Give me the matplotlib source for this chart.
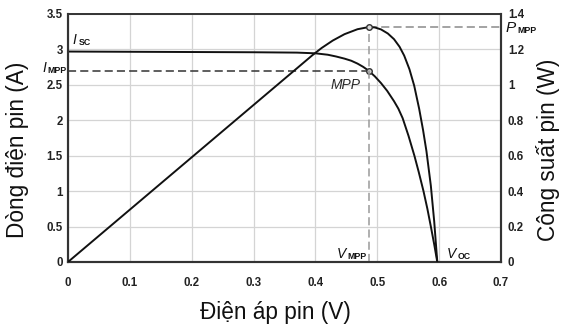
import matplotlib
matplotlib.use("Agg")
import matplotlib.pyplot as plt

plt.rcParams['font.family'] = ['Liberation Sans', 'DejaVu Sans']

# I-V curve (current, A)
iv_voltage = [0.0, 0.30, 0.37, 0.40, 0.42, 0.4335, 0.447, 0.458, 0.468, 0.477, 0.486,
              0.496, 0.506, 0.516, 0.527, 0.534, 0.541, 0.5505, 0.560, 0.567, 0.5747,
              0.581, 0.5866, 0.592, 0.597]
iv_current = [2.97, 2.96, 2.955, 2.945, 2.925, 2.90, 2.87, 2.84, 2.80, 2.755, 2.70,
              2.62, 2.525, 2.415, 2.27, 2.165, 2.03, 1.78, 1.50, 1.27, 1.00,
              0.75, 0.50, 0.25, 0.0]

# P-V curve (power, W)
pv_voltage = [0.0, 0.395, 0.41, 0.428, 0.447, 0.468, 0.486, 0.496, 0.506, 0.517, 0.527,
              0.536, 0.5435, 0.552, 0.5597, 0.5677, 0.574, 0.5795, 0.5866, 0.592, 0.597]
pv_power = [0.0, 1.167, 1.208, 1.250, 1.286, 1.314, 1.326, 1.324, 1.313, 1.290, 1.258,
            1.215, 1.165, 1.088, 0.995, 0.865, 0.745, 0.625, 0.43, 0.23, 0.0]

v_mpp = 0.486
i_mpp = 2.70
p_mpp = 1.326

x_ticks = [0, 0.1, 0.2, 0.3, 0.4, 0.5, 0.6, 0.7]
x_ticklabels = ['0', '0.1', '0.2', '0.3', '0.4', '0.5', '0.6', '0.7']
yl_ticks = [0, 0.5, 1, 1.5, 2, 2.5, 3, 3.5]
yl_ticklabels = ['0', '0.5', '1', '1.5', '2', '2.5', '3', '3.5']
yr_ticks = [0, 0.2, 0.4, 0.6, 0.8, 1.0, 1.2, 1.4]
yr_ticklabels = ['0', '0.2', '0.4', '0.6', '0.8', '1', '1.2', '1.4']

fig = plt.figure(figsize=(5.67, 3.30), dpi=100)
ax = fig.add_axes([0.1199, 0.2061, 0.7637, 0.7515])
ax2 = ax.twinx()

ax.set_xlim(0, 0.7)
ax.set_ylim(0, 3.5)
ax2.set_ylim(0, 1.4)

tick_font = dict(fontsize=8.3, fontweight='bold', color='#222222')
ax.set_xticks(x_ticks)
ax.set_xticklabels(x_ticklabels, **tick_font)
ax.set_yticks(yl_ticks)
ax.set_yticklabels(yl_ticklabels, **tick_font)
ax2.set_yticks(yr_ticks)
ax2.set_yticklabels(yr_ticklabels, **tick_font)
ax.tick_params(axis='x', length=0, pad=10.5)
ax.tick_params(axis='y', length=0, pad=3.8)
ax2.tick_params(axis='y', length=0, pad=5)

ax.grid(True, color='#d4d4d4', linewidth=0.9)
ax.set_axisbelow(True)

for a in (ax, ax2):
    for s in ['left', 'bottom', 'right']:
        a.spines[s].set_linewidth(1.5)
        a.spines[s].set_color('#333333')
    a.spines['top'].set_linewidth(1.2)
    a.spines['top'].set_color('#333333')

# curves
ax.plot(iv_voltage, iv_current, color='#111111', linewidth=1.4, zorder=3)
ax2.plot(pv_voltage, pv_power, color='#111111', linewidth=1.4, zorder=3)

# dashed guide lines
dash = (0, (5.3, 2.7))
ax.plot([0, v_mpp], [i_mpp, i_mpp], color='#333333', linestyle=dash, linewidth=1.1)
ax2.plot([v_mpp, v_mpp], [0, p_mpp], color='#9a9a9a', linestyle=dash, linewidth=1.1)
ax2.plot([v_mpp, 0.7], [p_mpp, p_mpp], color='#8a8a8a', linestyle=dash, linewidth=1.1)

# MPP markers
ax.plot([v_mpp], [i_mpp], marker='o', markersize=4, markerfacecolor='#cccccc',
        markeredgecolor='#333333', markeredgewidth=1.0, zorder=5)
ax2.plot([v_mpp], [p_mpp], marker='o', markersize=4, markerfacecolor='#dddddd',
         markeredgecolor='#333333', markeredgewidth=1.0, zorder=5)


def sub_label(axes, x, y, main, sub, main_size=10, sub_size=6.3):
    t = axes.text(x, y, main, fontsize=main_size, style='italic', color='#111111',
                  ha='left', va='baseline', clip_on=False)
    axes.annotate(sub, xy=(1, 0), xycoords=t, xytext=(1.2, -0.3),
                  textcoords='offset points', fontsize=sub_size, fontweight='bold',
                  color='#111111', ha='left', va='bottom', annotation_clip=False)
    return t


sub_label(ax, 0.008, 3.08, 'I', 'SC')
sub_label(ax, -0.042, 2.684, 'I', 'MPP')
sub_label(ax, 0.434, 0.056, 'V', 'MPP')
sub_label(ax, 0.613, 0.056, 'V', 'OC')
sub_label(ax, 0.708, 3.25, 'P', 'MPP', main_size=11)
ax.text(0.448, 2.50, 'MPP', fontsize=10, style='italic', color='#2a2a2a',
        ha='center', va='center')

fig.text(275 / 567, 1 - 313 / 330, 'Điện áp pin (V)', fontsize=16.3,
         ha='center', va='center', color='#111111')
fig.text(18 / 567, 1 - 150 / 330, 'Dòng điện pin (A)', fontsize=16.3, rotation=90,
         ha='center', va='center', color='#111111')
fig.text(548.5 / 567, 1 - 150 / 330, 'Công suất pin (W)', fontsize=16.3, rotation=90,
         ha='center', va='center', color='#111111')

fig.savefig('out.png', dpi=100)
